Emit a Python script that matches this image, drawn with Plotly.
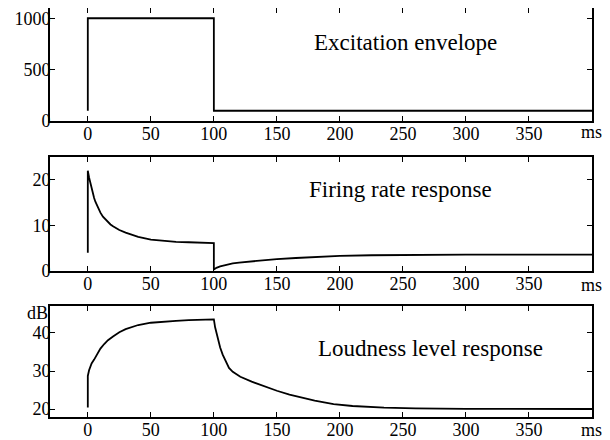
import plotly.graph_objects as go

# ---- data ----
exc_t = [0, 0, 100, 100, 400]
exc_v = [100, 1000, 1000, 100, 100]

fr_t = [0, 0, 1, 2, 3, 4, 5, 6, 8, 10, 12, 15, 18, 20, 25, 30, 35, 40, 50, 60, 70, 80, 90, 100,
        100, 102, 105, 110, 115, 120, 130, 140, 150, 165, 180, 200, 225, 250, 275, 300, 350, 400]
fr_v = [4, 22, 20.5, 19.2, 18.0, 17.0, 16.0, 15.2, 13.8, 12.8, 11.9, 11.0, 10.2, 9.8, 9.0, 8.4,
        7.9, 7.5, 6.9, 6.6, 6.4, 6.3, 6.2, 6.1,
        0.3, 0.7, 1.0, 1.4, 1.65, 1.85, 2.15, 2.4, 2.6, 2.85, 3.05, 3.3, 3.45, 3.55, 3.6, 3.6, 3.6, 3.6]

ll_t = [0, 0, 1, 2, 3, 5, 7, 10, 13, 16, 20, 25, 30, 35, 40, 50, 60, 70, 80, 90, 100,
        101, 103, 105, 107, 110, 112, 115, 121, 130, 140, 150, 160, 170, 180, 195, 210,
        235, 260, 300, 350, 400]
ll_v = [20.4, 28.7, 30.2, 31.2, 32.0, 33.0, 34.3, 35.9, 37.1, 38.1, 39.1, 40.2, 41.0, 41.6, 42.1,
        42.7, 43.0, 43.2, 43.4, 43.5, 43.6,
        41.5, 38.4, 36.2, 34.3, 32.0, 30.8, 29.8, 28.5, 27.2, 25.9, 24.8, 23.8, 22.9, 22.2, 21.3,
        20.8, 20.35, 20.15, 20.05, 20.0, 20.0]

x_tickvals = [0, 50, 100, 150, 200, 250, 300, 350]
x_ticktext = ["0", "50", "100", "150", "200", "250", "300", "350"]
x_unit = "ms"
y_unit3 = "dB"

titles = ["Excitation envelope", "Firing rate response", "Loudness level response"]

FONT = "Liberation Serif"

# page offset of the figure inside the browser page (default body margin)
OFF = 8
W, H = 610 - OFF, 440 - OFF
L, R, T, B = 50 - OFF, 18, 0, 23   # plot area in page: x 50..592, y 8..417
PW, PH = W - L - R, H - T - B

fig = go.Figure()
line = dict(color="black", width=1.8)
fig.add_trace(go.Scatter(x=exc_t, y=exc_v, mode="lines", line=line, xaxis="x", yaxis="y"))
fig.add_trace(go.Scatter(x=fr_t, y=fr_v, mode="lines", line=line, xaxis="x2", yaxis="y2"))
fig.add_trace(go.Scatter(x=ll_t, y=ll_v, mode="lines", line=line, xaxis="x3", yaxis="y3"))

tickfont = dict(family=FONT, size=18, color="black")
common = dict(showline=True, linecolor="black", linewidth=1.8, mirror="ticks",
              ticks="inside", ticklen=5, tickwidth=1.3, tickcolor="black",
              showgrid=False, zeroline=False, automargin=False,
              tickfont=tickfont)

xcommon = dict(common, range=[-30, 400], tickvals=x_tickvals, ticktext=x_ticktext,
               ticklabelstandoff=-5)
ycommon = dict(common, ticklabelstandoff=-6)

def dom(top_px, bot_px):
    # page pixel rows -> paper fraction
    return [(417 - bot_px) / PH, (417 - top_px) / PH]

fig.update_layout(
    width=W, height=H,
    margin=dict(l=L, r=R, t=T, b=B),
    paper_bgcolor="white", plot_bgcolor="white",
    showlegend=False,
    font=dict(family=FONT, size=18, color="black"),
    xaxis=dict(xcommon, anchor="y"),
    xaxis2=dict(xcommon, anchor="y2"),
    xaxis3=dict(xcommon, anchor="y3"),
    yaxis=dict(ycommon, domain=dom(8, 121), range=[0, 1100], tickvals=[0, 500, 1000], anchor="x"),
    yaxis2=dict(ycommon, domain=dom(157, 271), range=[0, 25], tickvals=[0, 10, 20], anchor="x2"),
    yaxis3=dict(ycommon, domain=dom(306, 417), range=[17.9, 47.1], tickvals=[20, 30, 40], anchor="x3"),
)

def px2paper(px, py):
    return (px - 50) / PW, (417 - py) / PH

ann_font = dict(family=FONT, size=23, color="black")
ann_pos = [(405, 42), (400, 189), (430, 348)]
for t, (px, py) in zip(titles, ann_pos):
    ax, ay = px2paper(px, py)
    fig.add_annotation(text=t, x=ax, y=ay, xref="paper", yref="paper",
                       showarrow=False, font=ann_font, xanchor="center", yanchor="middle")

small = dict(family=FONT, size=18, color="black")
for py in (132, 285, 430):
    ax, ay = px2paper(591, py)
    fig.add_annotation(text=x_unit, x=ax, y=ay, xref="paper", yref="paper", showarrow=False,
                       font=small, xanchor="center", yanchor="middle")
ax, ay = px2paper(37, 313)
fig.add_annotation(text=y_unit3, x=ax, y=ay, xref="paper", yref="paper", showarrow=False,
                   font=small, xanchor="center", yanchor="middle")

fig.write_html("out.html")
